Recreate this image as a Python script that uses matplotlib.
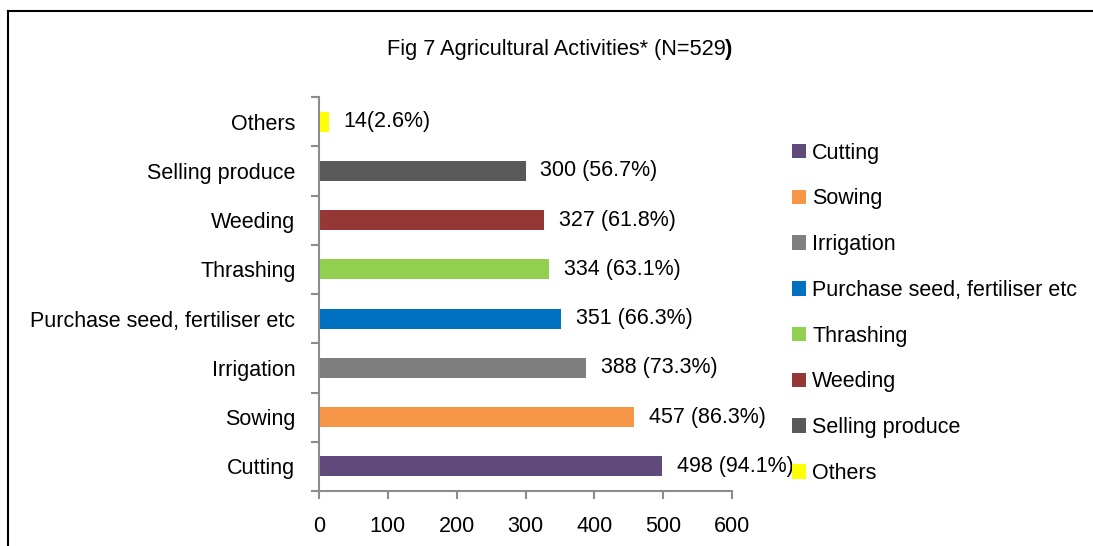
import matplotlib
matplotlib.use("Agg")
import matplotlib.pyplot as plt
from matplotlib.lines import Line2D
from matplotlib.patches import Patch
from matplotlib.ticker import FixedLocator

plt.rcParams['font.family'] = ['Liberation Sans', 'DejaVu Sans']

categories = ["Cutting", "Sowing", "Irrigation", "Purchase seed, fertiliser etc",
              "Thrashing", "Weeding", "Selling produce", "Others"]
values = [498, 457, 388, 351, 334, 327, 300, 14]
value_labels = ["498 (94.1%)", "457 (86.3%)", "388 (73.3%)", "351 (66.3%)",
                "334 (63.1%)", "327 (61.8%)", "300 (56.7%)", "14(2.6%)"]
colors = ["#604A7B", "#F79646", "#7F7F7F", "#0070C0",
          "#92D050", "#953735", "#595959", "#FFFF00"]
xticks = [0, 100, 200, 300, 400, 500, 600]
title = "Fig 7 Agricultural Activities* (N=529"

FS = 15.5
fig = plt.figure(figsize=(10.93, 5.46), dpi=100)
W, H = 1093, 546
ax = fig.add_axes([319 / W, 1 - 491 / H, (732 - 319) / W, (491 - 97) / H])

ypos = list(range(len(categories)))
ax.barh(ypos, values, height=0.41, color=colors)
for y, v, lab in zip(ypos, values, value_labels):
    ax.annotate(lab, xy=(v, y), xytext=(15, 0), textcoords='offset pixels',
                va='center', ha='left', fontsize=FS)

ax.set_xlim(0, 600)
ax.set_ylim(-0.5, len(categories) - 0.5)
ax.set_xticks(xticks)
ax.set_xticklabels([str(t) for t in xticks], fontsize=FS)
ax.set_yticks(ypos)
ax.set_yticklabels(categories, fontsize=FS)
ax.yaxis.set_minor_locator(FixedLocator([i - 0.5 for i in range(len(categories) + 1)]))
ax.tick_params(axis='y', which='major', length=0, pad=17)
ax.tick_params(axis='y', which='minor', length=6, width=1.5, color='#8C8C8C')
ax.tick_params(axis='x', which='major', length=6, width=1.5, color='#8C8C8C', pad=12)
for s in ['top', 'right']:
    ax.spines[s].set_visible(False)
for s in ['left', 'bottom']:
    ax.spines[s].set_color('#8C8C8C')
    ax.spines[s].set_linewidth(1.5)

t = fig.text(556 / W, 1 - 49 / H, title, ha='center', va='center', fontsize=15.7)
ax.annotate(")", xy=(1, 0), xycoords=t, va='bottom', ha='left', fontsize=15.7, fontweight='bold')

handles = [Patch(facecolor=c, edgecolor='none') for c in colors]
fig.legend(handles, categories, loc='upper left', bbox_to_anchor=(783 / W, 1 - 134 / H),
           frameon=False, fontsize=FS, handlelength=0.65, handleheight=0.65,
           handletextpad=0.3, labelspacing=1.15, borderaxespad=0)

fig.add_artist(Line2D([8 / W, 1], [1 - 11 / H, 1 - 11 / H], color='black', lw=1.5))
fig.add_artist(Line2D([8 / W, 8 / W], [0, 1 - 11 / H], color='black', lw=1.5))

fig.savefig("out.png", dpi=100)
